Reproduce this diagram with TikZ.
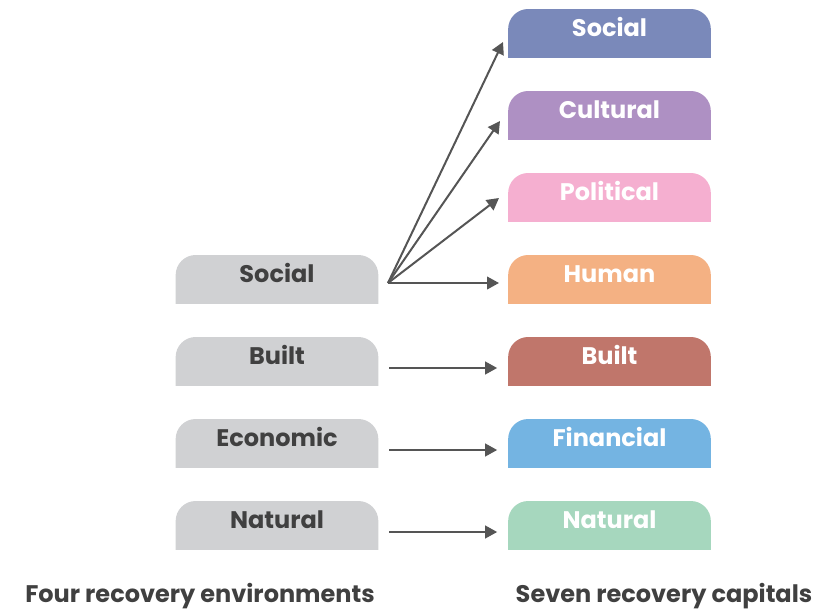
\documentclass[tikz,border=0pt]{standalone}
\usepackage{fontspec}
\setmainfont{Poppins}
\usepackage{xcolor}
\usetikzlibrary{arrows.meta}

\definecolor{envgray}{HTML}{D0D1D3}
\definecolor{envtext}{HTML}{404040}
\definecolor{arrowgray}{HTML}{555555}
\definecolor{capsocial}{HTML}{7A89BA}
\definecolor{capcultural}{HTML}{AE90C3}
\definecolor{cappolitical}{HTML}{F5AFD0}
\definecolor{caphuman}{HTML}{F4B183}
\definecolor{capbuilt}{HTML}{C0766B}
\definecolor{capfinancial}{HTML}{74B4E2}
\definecolor{capnatural}{HTML}{A6D7BE}

\begin{document}
\begin{tikzpicture}[x=0.75pt, y=-0.75pt, font=\bfseries\fontsize{18}{20}\selectfont, line width=1.5pt,
  >={Triangle[length=9pt, width=9.5pt]},
  tab/.style={minimum width=152pt, minimum height=36pt, inner sep=0pt,
    text height=13pt, text depth=8pt,
    path picture={\fill[#1, rounded corners=15pt]
      ([yshift=-20pt]path picture bounding box.south west) rectangle (path picture bounding box.north east);}},
  env/.style={tab=envgray, text=envtext},
  cap/.style={tab=#1, text=white},
  link/.style={->, draw=arrowgray, fill=arrowgray}]
  \useasboundingbox (0,0) rectangle (836,611);

  % recovery environments
  \node[env] (eSocial) at (277,279) {Social};
  \node[env] (eBuilt) at (277,361) {Built};
  \node[env] (eEconomic) at (277,443) {Economic};
  \node[env] (eNatural) at (277,525) {Natural};

  % recovery capitals
  \node[cap=capsocial] (cSocial) at (609.5,33) {Social};
  \node[cap=capcultural] (cCultural) at (609.5,115) {Cultural};
  \node[cap=cappolitical] (cPolitical) at (609.5,197) {Political};
  \node[cap=caphuman] (cHuman) at (609.5,279) {Human};
  \node[cap=capbuilt] (cBuilt) at (609.5,361) {Built};
  \node[cap=capfinancial] (cFinancial) at (609.5,443) {Financial};
  \node[cap=capnatural] (cNatural) at (609.5,525) {Natural};

  \coordinate (hub) at (388,283);
  \coordinate (tSocial) at (503,42);
  \coordinate (tCultural) at (500,121);
  \coordinate (tPolitical) at (499,198);
  \coordinate (tHuman) at (499,283);

  \draw[link] (hub) -- (tSocial);
  \draw[link] (hub) -- (tCultural);
  \draw[link] (hub) -- (tPolitical);
  \draw[link] (hub) -- (tHuman);
  \draw[link] ([xshift=7.5pt,yshift=-5.25pt]eBuilt.east) -- ([xshift=-7.5pt,yshift=-5.25pt]cBuilt.west);
  \draw[link] ([xshift=7.5pt,yshift=-5.25pt]eEconomic.east) -- ([xshift=-7.5pt,yshift=-5.25pt]cFinancial.west);
  \draw[link] ([xshift=7.5pt,yshift=-5.25pt]eNatural.east) -- ([xshift=-7.5pt,yshift=-5.25pt]cNatural.west);

  % captions
  \node[text=envtext] (leftCap) at (200,596) {Four recovery environments};
  \node[text=envtext] (rightCap) at (664,596) {Seven recovery capitals};
\end{tikzpicture}
\end{document}
